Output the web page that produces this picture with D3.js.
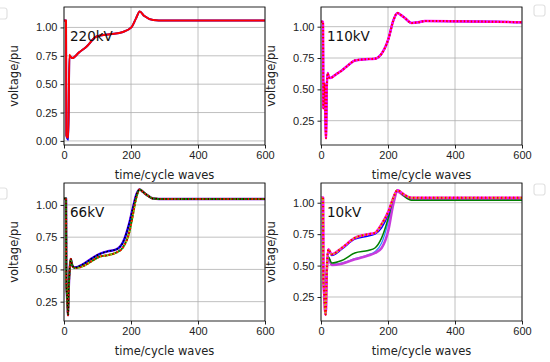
<!DOCTYPE html>
<html>
<head>
<meta charset="utf-8">
<script src="https://cdn.jsdelivr.net/npm/d3@7"></script>
<style>
  body { margin: 0; background: #fff; }
  svg { display: block; font-family: "DejaVu Sans", sans-serif; }
  .grid line { stroke: #b0b0b0; stroke-width: 0.8; }
  .tick text { font-size: 11px; fill: #222; }
  .tick line { stroke: #222; }
</style>
</head>
<body>
<svg width="550" height="362"></svg>
<script>
// ---- data ----
const xTicks = [0, 200, 400, 600];
const yTicks = [0, 0.25, 0.5, 0.75, 1.0];

// 220kV
const t220 = [0, 6, 7, 10, 13, 16, 20, 25, 45, 67, 97, 137, 176, 201, 215, 226, 240, 266, 300, 600];
const v220Blue = [1.06, 1.06, 0.05, 0.02, 0.01, 0.74, 0.74, 0.73, 0.78, 0.83, 0.92, 0.94, 0.96, 1.0, 1.08, 1.14, 1.10, 1.065, 1.06, 1.06];
const v220Red = [1.06, 1.06, 0.05, 0.03, 0.03, 0.76, 0.74, 0.73, 0.78, 0.83, 0.92, 0.94, 0.96, 1.0, 1.08, 1.14, 1.10, 1.065, 1.06, 1.06];

// 110kV
const t110 = [0, 6, 7, 9, 10, 12, 13, 15, 17, 20, 23, 27, 45, 62, 80, 101, 131, 161, 181, 201, 216, 228, 240, 250, 270, 290, 310, 600];
const v110Blue = [1.04, 1.04, 0.35, 0.5, 0.55, 0.45, 0.3, 0.11, 0.5, 0.63, 0.6, 0.59, 0.62, 0.65, 0.69, 0.73, 0.74, 0.745, 0.785, 0.9, 1.05, 1.11, 1.09, 1.07, 1.03, 1.035, 1.045, 1.035];
const v110Mag = [1.04, 1.04, 0.35, 0.5, 0.55, 0.45, 0.3, 0.11, 0.5, 0.63, 0.6, 0.59, 0.62, 0.65, 0.69, 0.73, 0.74, 0.745, 0.785, 0.9, 1.05, 1.11, 1.09, 1.07, 1.03, 1.035, 1.045, 1.035];

// 66kV
const t66 = [0, 6, 7, 9, 11, 12, 14, 17, 20, 25, 32, 57, 80, 107, 130, 156, 176, 196, 206, 216, 226, 236, 246, 266, 300, 600];
const v66Upper = [1.05, 1.05, 0.4, 0.3, 0.2, 0.145, 0.35, 0.5, 0.58, 0.53, 0.515, 0.54, 0.58, 0.62, 0.64, 0.655, 0.71, 0.87, 0.98, 1.08, 1.12, 1.10, 1.08, 1.05, 1.045, 1.045];
const v66Lower = [1.05, 1.05, 0.4, 0.3, 0.2, 0.145, 0.35, 0.5, 0.58, 0.53, 0.51, 0.525, 0.56, 0.6, 0.61, 0.63, 0.67, 0.80, 0.93, 1.06, 1.12, 1.10, 1.08, 1.05, 1.045, 1.045];

// 10kV
const t10 = [0, 6, 7, 9, 11, 12, 14, 17, 22, 32, 62, 101, 141, 161, 181, 201, 216, 228, 245, 270, 310, 600];
const v10Mag = [1.04, 1.04, 0.4, 0.3, 0.2, 0.15, 0.11, 0.45, 0.63, 0.59, 0.64, 0.72, 0.75, 0.76, 0.83, 0.93, 1.04, 1.10, 1.07, 1.04, 1.04, 1.04];
const v10Blue = [1.04, 1.04, 0.4, 0.3, 0.2, 0.15, 0.11, 0.45, 0.62, 0.58, 0.63, 0.71, 0.735, 0.75, 0.80, 0.91, 1.04, 1.10, 1.07, 1.035, 1.035, 1.035];
const v10Green = [1.04, 1.04, 0.4, 0.3, 0.2, 0.15, 0.11, 0.45, 0.57, 0.52, 0.54, 0.60, 0.62, 0.64, 0.72, 0.88, 1.04, 1.10, 1.06, 1.02, 1.02, 1.02];
const v10Cyan = [1.04, 1.04, 0.4, 0.3, 0.2, 0.15, 0.11, 0.45, 0.57, 0.51, 0.52, 0.555, 0.585, 0.61, 0.68, 0.85, 1.02, 1.10, 1.06, 1.03, 1.03, 1.03];
const v10Violet = [1.04, 1.04, 0.4, 0.3, 0.2, 0.15, 0.11, 0.45, 0.56, 0.505, 0.515, 0.55, 0.58, 0.60, 0.64, 0.78, 0.99, 1.09, 1.06, 1.03, 1.03, 1.03];

// panel setup: box, y-domain, label, series
const panels = [
  { box: [64, 7, 201, 138], yDom: [-0.036, 1.18], ticks: yTicks, label: "220kV", t: t220,
    series: [
      { v: v220Blue, color: "#0000ff", w: 2 },
      { v: v220Red, color: "#ff0000", w: 2 }
    ] },
  { box: [321, 7, 201, 138], yDom: [0.056, 1.157], ticks: yTicks.slice(1), label: "110kV", t: t110,
    series: [
      { v: v110Blue, color: "#0000ff", w: 2 },
      { v: v110Mag, color: "#ff00ff", w: 2.5 },
      { v: v110Mag, color: "#ff0000", w: 2, dash: "1.5,2" }
    ] },
  { box: [64, 183, 201, 138], yDom: [0.10, 1.17], ticks: yTicks.slice(1), label: "66kV", t: t66,
    series: [
      { v: v66Upper, color: "#7000e0", w: 2.5 },
      { v: v66Upper, color: "#0000ff", w: 1.5 },
      { v: v66Lower, color: "#008000", w: 2 },
      { v: v66Lower, color: "#c8c800", w: 2, dash: "1.5,2" },
      { v: v66Lower, color: "#ff0000", w: 2, dash: "1.5,2.5", offset: 1.7 },
      { v: v66Upper, color: "#000000", w: 1.5, dash: "1.5,2" }
    ] },
  { box: [321, 183, 201, 138], yDom: [0.059, 1.157], ticks: yTicks.slice(1), label: "10kV", t: t10,
    series: [
      { v: v10Cyan, color: "#2a8cff", w: 1.3 },
      { v: v10Violet, color: "#c83cdc", w: 2.5 },
      { v: v10Green, color: "#008000", w: 1.5 },
      { v: v10Blue, color: "#0000ff", w: 1.5 },
      { v: v10Mag, color: "#ff00ff", w: 2.5 },
      { v: v10Mag, color: "#c8c800", w: 2, dash: "1.5,2" },
      { v: v10Mag, color: "#ff0000", w: 2, dash: "1.5,2.5", offset: 1.7 }
    ] }
];

const svg = d3.select("svg");

// faint empty legend boxes seen in the reference
[[-4, 8], [534, 5], [-4, 188], [534, 184]].forEach(([x, y]) => {
  svg.append("rect")
    .attr("x", x).attr("y", y).attr("width", 11).attr("height", 11)
    .attr("rx", 2.5)
    .attr("fill", "none").attr("stroke", "#e2e2e2").attr("stroke-width", 1.2);
});

panels.forEach((p, i) => {
  const [bx, by, bw, bh] = p.box;
  const x = d3.scaleLinear().domain([0, 600]).range([0, bw]);
  const y = d3.scaleLinear().domain(p.yDom).range([bh, 0]);

  const g = svg.append("g").attr("transform", `translate(${bx},${by})`);

  // grid
  const grid = g.append("g").attr("class", "grid");
  grid.selectAll("line.v").data(xTicks).enter().append("line")
    .attr("x1", d => x(d)).attr("x2", d => x(d))
    .attr("y1", 0).attr("y2", bh);
  grid.selectAll("line.h").data(p.ticks).enter().append("line")
    .attr("x1", 0).attr("x2", bw)
    .attr("y1", d => y(d)).attr("y2", d => y(d));

  // clip for the curves
  const clipId = "clip" + i;
  g.append("clipPath").attr("id", clipId)
    .append("rect").attr("width", bw).attr("height", bh);

  const lines = g.append("g").attr("clip-path", `url(#${clipId})`);
  p.series.forEach(s => {
    const line = d3.line()
      .x((d, k) => x(p.t[k]))
      .y(d => y(d))
      .curve(d3.curveMonotoneX);
    lines.append("path")
      .attr("d", line(s.v))
      .attr("fill", "none")
      .attr("stroke", s.color)
      .attr("stroke-width", s.w)
      .attr("stroke-dasharray", s.dash || null)
      .attr("stroke-dashoffset", s.offset || 0)
      .attr("stroke-linejoin", "round");
  });

  // axes
  g.append("g")
    .attr("transform", `translate(0,${bh})`)
    .call(d3.axisBottom(x).tickValues(xTicks).tickSize(3.5).tickPadding(3).tickFormat(d3.format("d")))
    .call(a => a.select(".domain").remove());
  g.append("g")
    .call(d3.axisLeft(y).tickValues(p.ticks).tickSize(3.5).tickPadding(3).tickFormat(d3.format(".2f")))
    .call(a => a.select(".domain").remove());

  // frame
  g.append("rect")
    .attr("width", bw).attr("height", bh)
    .attr("fill", "none").attr("stroke", "#111").attr("stroke-width", 0.9);

  // labels
  g.append("text")
    .attr("x", bw / 2).attr("y", bh + 34)
    .attr("text-anchor", "middle")
    .attr("font-size", 11.5).attr("fill", "#222")
    .text("time/cycle waves");
  g.append("text")
    .attr("transform", `translate(${-46},${bh / 2}) rotate(-90)`)
    .attr("text-anchor", "middle")
    .attr("font-size", 11.5).attr("fill", "#222")
    .text("voltage/pu");

  g.append("text")
    .attr("x", 6).attr("y", y(p.yDom[1]) + 34)
    .attr("font-size", 13.5).attr("fill", "#111")
    .text(p.label);
});
</script>
</body>
</html>
